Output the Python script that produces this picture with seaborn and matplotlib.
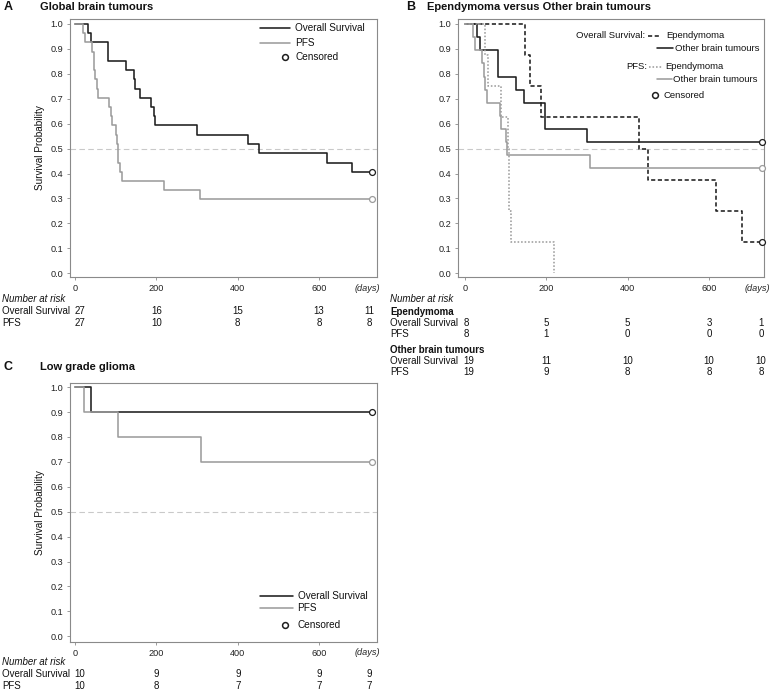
import matplotlib
matplotlib.use("Agg")
import matplotlib.pyplot as plt
import matplotlib.transforms as mtransforms
from matplotlib.lines import Line2D
import pandas as pd
import seaborn as sns

# ---------------- data ----------------
time_ticks = [0, 200, 400, 600]
prob_ticks = [0.0, 0.1, 0.2, 0.3, 0.4, 0.5, 0.6, 0.7, 0.8, 0.9, 1.0]

# Panel A: global brain tumours (n=27)
a_os_days = [0, 31, 39, 82, 126, 145, 147, 160, 187, 194, 197, 300, 426, 451, 618, 681, 730]
a_os_surv = [1.0, 0.963, 0.926, 0.852, 0.815, 0.778, 0.741, 0.704, 0.667, 0.630, 0.593,
             0.556, 0.519, 0.481, 0.444, 0.407, 0.407]
a_pfs_days = [0, 20, 25, 42, 46, 48, 50, 55, 57, 85, 88, 90, 100, 103, 105, 107, 110, 115, 218, 308, 730]
a_pfs_surv = [1.0, 0.963, 0.926, 0.889, 0.852, 0.815, 0.778, 0.741, 0.704, 0.667, 0.630,
              0.593, 0.556, 0.519, 0.481, 0.444, 0.407, 0.370, 0.333, 0.296, 0.296]

# Panel B: ependymoma (n=8) vs other brain tumours (n=19)
b_os_epen_days = [0, 147, 160, 187, 428, 451, 618, 681, 730]
b_os_epen_surv = [1.0, 0.875, 0.75, 0.625, 0.5, 0.375, 0.25, 0.125, 0.125]
b_os_other_days = [0, 29, 37, 81, 126, 145, 196, 299, 730]
b_os_other_surv = [1.0, 0.947, 0.895, 0.789, 0.737, 0.684, 0.579, 0.526, 0.526]
b_pfs_epen_days = [0, 48, 56, 88, 105, 107, 109, 114, 218]
b_pfs_epen_surv = [1.0, 0.875, 0.75, 0.625, 0.5, 0.375, 0.25, 0.125, 0.0]
b_pfs_other_days = [0, 20, 25, 42, 46, 50, 55, 85, 89, 101, 104, 307, 730]
b_pfs_other_surv = [1.0, 0.947, 0.895, 0.842, 0.789, 0.737, 0.684, 0.632, 0.579,
                    0.526, 0.474, 0.421, 0.421]

# Panel C: low grade glioma (n=10)
c_os_days = [0, 39, 730]
c_os_surv = [1.0, 0.9, 0.9]
c_pfs_days = [0, 22, 106, 310, 730]
c_pfs_surv = [1.0, 0.9, 0.8, 0.7, 0.7]

# Number at risk tables
risk_a_os = [27, 16, 15, 13, 11]
risk_a_pfs = [27, 10, 8, 8, 8]
risk_b_epen_os = [8, 5, 5, 3, 1]
risk_b_epen_pfs = [8, 1, 0, 0, 0]
risk_b_other_os = [19, 11, 10, 10, 10]
risk_b_other_pfs = [19, 9, 8, 8, 8]
risk_c_os = [10, 9, 9, 9, 9]
risk_c_pfs = [10, 8, 7, 7, 7]

# ---------------- style ----------------
sns.set_theme(style="ticks")
plt.rcParams["font.family"] = ["Liberation Sans", "DejaVu Sans"]

BLACK = "#1e1e1e"
GREY = "#9c9c9c"
SPINE = "#8a8a8a"
W, H = 772, 692

fig = plt.figure(figsize=(W / 100, H / 100), dpi=100)
fig.patch.set_facecolor("white")


def fx(px):
    return px / W


def fy(py):
    return 1 - py / H


def make_ax(left, top, right, bottom, xlim, ylim):
    ax = fig.add_axes([fx(left), fy(bottom), (right - left) / W, (bottom - top) / H])
    ax.set_xlim(*xlim)
    ax.set_ylim(*ylim)
    ax.set_xticks(time_ticks)
    ax.set_xticklabels([str(t) for t in time_ticks])
    ax.set_yticks(prob_ticks)
    ax.set_yticklabels([f"{p:.1f}" for p in prob_ticks])
    for s in ax.spines.values():
        s.set_color(SPINE)
        s.set_linewidth(0.8)
        s.set_visible(True)
    ax.tick_params(direction="out", length=2.5, width=0.6, color=SPINE,
                   labelsize=6.6, pad=2.4, labelcolor="#222222")
    ax.axhline(0.5, color="#c9c9c9", lw=0.8, ls=(0, (5, 3)), zorder=1)
    ax.set_xlabel("")
    ax.set_ylabel("")
    ax.text(718, ylim[0] - 0.045, "(days)", style="italic", fontsize=6.6,
            ha="center", va="center", color="#222222", clip_on=False)
    ax.set_facecolor("white")
    return ax


def km(ax, days, surv, color, ls="-", censor=True):
    df = pd.DataFrame({"days": days, "surv": surv})
    sns.lineplot(data=df, x="days", y="surv", ax=ax, color=color, lw=1.15,
                 linestyle=ls, drawstyle="steps-post", estimator=None,
                 sort=False, legend=False, zorder=3)
    if censor:
        sns.scatterplot(x=[days[-1]], y=[surv[-1]], ax=ax, marker="o", s=18,
                        color="white", edgecolor=color, linewidth=0.9,
                        zorder=5, legend=False, clip_on=False)
    ax.set_xlabel("")
    ax.set_ylabel("")


def leg_line(x0, x1, y, color, ls="-"):
    fig.add_artist(Line2D([fx(x0), fx(x1)], [fy(y), fy(y)], transform=fig.transFigure,
                          color=color, lw=1.15, linestyle=ls))


def leg_circle(x, y):
    fig.add_artist(Line2D([fx(x)], [fy(y)], transform=fig.transFigure, marker="o",
                          markersize=4.2, mfc="white", mec=BLACK, mew=1.1, lw=0))


def ftext(x, y, s, size=7.2, ha="left", weight="normal", style="normal"):
    fig.text(fx(x), fy(y), s, fontsize=size, ha=ha, va="center", weight=weight,
             style=style, color="#111111")


def risk_row(ax, y, values, cols, size=7.0):
    tr = mtransforms.blended_transform_factory(ax.transData, fig.transFigure)
    for i, (c, v) in enumerate(zip(cols, values)):
        ax.text(c, fy(y), str(v), transform=tr, fontsize=size,
                ha="left" if i == 0 else "center", va="center", color="#111111",
                clip_on=False)


cols_ac = [-2, 200, 400, 600, 722]
cols_b = [-4, 200, 400, 600, 728]

# ---------------- Panel A ----------------
axA = make_ax(70, 19, 377, 277, (-12, 742), (-0.015, 1.02))
km(axA, a_os_days, a_os_surv, BLACK)
km(axA, a_pfs_days, a_pfs_surv, GREY)
axA.set_ylabel("Survival Probability", fontsize=7.2, labelpad=4, color="#111111")
ftext(4, 7, "A", size=9, weight="bold")
ftext(40, 7, "Global brain tumours", size=8, weight="bold")
leg_line(260, 290, 28.3, BLACK)
ftext(295, 28.3, "Overall Survival")
leg_line(260, 290, 42.7, GREY)
ftext(295, 42.7, "PFS")
leg_circle(285, 56.7)
ftext(295, 56.7, "Censored")
ftext(2, 299, "Number at risk", size=7.0, style="italic")
ftext(2, 311, "Overall Survival", size=7.0)
ftext(2, 323, "PFS", size=7.0)
risk_row(axA, 311, risk_a_os, cols_ac)
risk_row(axA, 323, risk_a_pfs, cols_ac)

# ---------------- Panel B ----------------
axB = make_ax(457.7, 19, 764, 277, (-18, 735), (-0.015, 1.02))
km(axB, b_os_epen_days, b_os_epen_surv, BLACK, ls=(0, (2.6, 1.6)))
km(axB, b_os_other_days, b_os_other_surv, BLACK)
km(axB, b_pfs_epen_days, b_pfs_epen_surv, GREY, ls=(0, (1.0, 1.2)), censor=False)
km(axB, b_pfs_other_days, b_pfs_other_surv, GREY)
ftext(406, 7, "B", size=9, weight="bold")
ftext(427, 7, "Ependymoma versus Other brain tumours", size=8, weight="bold")
BL = 6.8
ftext(645, 35.7, "Overall Survival:", size=BL, ha="right")
leg_line(647.5, 661, 35.7, BLACK, ls=(0, (2.6, 1.6)))
ftext(666, 35.7, "Ependymoma", size=BL)
leg_line(657, 673, 48.3, BLACK)
ftext(675, 48.3, "Other brain tumours", size=BL)
ftext(647, 66.7, "PFS:", size=BL, ha="right")
leg_line(648.5, 663, 66.7, GREY, ls=(0, (1.0, 1.2)))
ftext(665, 66.7, "Ependymoma", size=BL)
leg_line(657, 672, 79.3, GREY)
ftext(673, 79.3, "Other brain tumours", size=BL)
leg_circle(655, 95)
ftext(663, 95, "Censored", size=BL)
ftext(390, 299, "Number at risk", size=7.0, style="italic")
ftext(390, 312, "Ependymoma", size=7.0, weight="bold")
ftext(390, 323, "Overall Survival", size=7.0)
ftext(390, 334, "PFS", size=7.0)
ftext(390, 350, "Other brain tumours", size=7.0, weight="bold")
ftext(390, 361, "Overall Survival", size=7.0)
ftext(390, 372, "PFS", size=7.0)
risk_row(axB, 323, risk_b_epen_os, cols_b)
risk_row(axB, 334, risk_b_epen_pfs, cols_b)
risk_row(axB, 361, risk_b_other_os, cols_b)
risk_row(axB, 372, risk_b_other_pfs, cols_b)

# ---------------- Panel C ----------------
axC = make_ax(70, 382.7, 377, 641.7, (-12, 742), (-0.022, 1.018))
km(axC, c_os_days, c_os_surv, BLACK)
km(axC, c_pfs_days, c_pfs_surv, GREY)
axC.set_ylabel("Survival Probability", fontsize=7.2, labelpad=4, color="#111111")
ftext(4, 367, "C", size=9, weight="bold")
ftext(40.5, 367, "Low grade glioma", size=8, weight="bold")
leg_line(260, 292.5, 595.7, BLACK)
ftext(297.5, 595.7, "Overall Survival")
leg_line(260, 292.5, 608.3, GREY)
ftext(297.5, 608.3, "PFS")
leg_circle(285, 625)
ftext(297.5, 625, "Censored")
ftext(2, 662, "Number at risk", size=7.0, style="italic")
ftext(2, 674, "Overall Survival", size=7.0)
ftext(2, 686, "PFS", size=7.0)
risk_row(axC, 674, risk_c_os, cols_ac)
risk_row(axC, 686, risk_c_pfs, cols_ac)

fig.savefig("out.png", dpi=100, facecolor="white")
